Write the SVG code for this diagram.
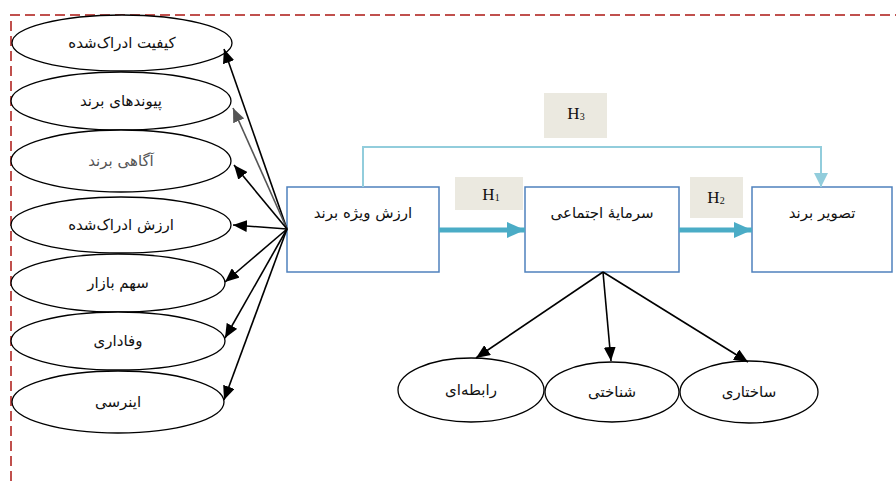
<svg xmlns="http://www.w3.org/2000/svg" width="896" height="481" viewBox="0 0 896 481">
<style>
.ell{fill:#fff;stroke:#000;stroke-width:1.3}
.box{fill:#fff;stroke:#4f81bd;stroke-width:1.5}
.lbl{font-family:"DejaVu Sans",sans-serif;font-size:15px;fill:#111;text-anchor:middle;dominant-baseline:central}
.hbox{fill:#ebe9e0}
.h{font-family:"Liberation Serif",serif;font-size:17px;fill:#111;text-anchor:middle;dominant-baseline:central}
.blk{stroke:#000;stroke-width:1.6;fill:none;marker-end:url(#ab)}
.thick{stroke:#4bacc6;stroke-width:5;fill:none;marker-end:url(#at)}
</style>
<defs>
<marker id="ab" markerUnits="userSpaceOnUse" markerWidth="14" markerHeight="12" viewBox="0 0 14 12" refX="14" refY="6" orient="auto"><path d="M0,0 L14,6 L0,12 z" fill="#000"/></marker>
<marker id="ag" markerUnits="userSpaceOnUse" markerWidth="14" markerHeight="12" viewBox="0 0 14 12" refX="14" refY="6" orient="auto"><path d="M0,0 L14,6 L0,12 z" fill="#555"/></marker>
<marker id="at" markerUnits="userSpaceOnUse" markerWidth="18" markerHeight="16" viewBox="0 0 18 16" refX="18" refY="8" orient="auto"><path d="M0,0 L18,8 L0,16 z" fill="#4bacc6"/></marker>
<marker id="al" markerUnits="userSpaceOnUse" markerWidth="14" markerHeight="14" viewBox="0 0 14 14" refX="14" refY="7" orient="auto"><path d="M0,0 L14,7 L0,14 z" fill="#92cddc"/></marker>
</defs>
<g id="border" fill="none" stroke="#c0504d" stroke-width="2" stroke-dasharray="10 5">
<path d="M11,481 L11,15 L896,15"/>
</g>
<g id="left-ellipses">
<g id="e1"><ellipse class="ell" cx="122" cy="43" rx="110" ry="28"/><text class="lbl" x="122" y="43">کیفیت ادراک‌شده</text></g>
<g id="e2"><ellipse class="ell" cx="121" cy="101" rx="110" ry="29"/><text class="lbl" x="121" y="101">پیوندهای برند</text></g>
<g id="e3"><ellipse class="ell" cx="121" cy="161" rx="110" ry="31"/><text class="lbl" x="121" y="161" style="fill:#555">آگاهی برند</text></g>
<g id="e4"><ellipse class="ell" cx="121" cy="225" rx="110" ry="28"/><text class="lbl" x="121" y="225">ارزش ادراک‌شده</text></g>
<g id="e5"><ellipse class="ell" cx="118" cy="283" rx="107" ry="29"/><text class="lbl" x="118" y="283">سهم بازار</text></g>
<g id="e6"><ellipse class="ell" cx="118" cy="341" rx="107" ry="29"/><text class="lbl" x="118" y="341">وفاداری</text></g>
<g id="e7"><ellipse class="ell" cx="118" cy="402" rx="106" ry="31"/><text class="lbl" x="118" y="402">اینرسی</text></g>
</g>
<g id="bottom-ellipses">
<g id="b1"><ellipse class="ell" cx="471" cy="390" rx="73" ry="32"/><text class="lbl" x="471" y="390">رابطه‌ای</text></g>
<g id="b2"><ellipse class="ell" cx="612" cy="392" rx="67" ry="30"/><text class="lbl" x="612" y="392">شناختی</text></g>
<g id="b3"><ellipse class="ell" cx="749" cy="392" rx="69" ry="31"/><text class="lbl" x="749" y="392">ساختاری</text></g>
</g>
<g id="n-brand-equity"><rect class="box" x="287" y="187" width="152" height="85"/><text class="lbl" x="363" y="213">ارزش ویژه برند</text></g>
<g id="n-social-capital"><rect class="box" x="525" y="187" width="154" height="85"/><text class="lbl" x="602" y="213">سرمایهٔ اجتماعی</text></g>
<g id="n-brand-image"><rect class="box" x="752" y="187" width="140" height="85"/><text class="lbl" x="822" y="213">تصویر برند</text></g>
<g id="h-labels">
<g id="h1"><rect class="hbox" x="455" y="177" width="68" height="33"/><text class="h" x="491" y="194">H<tspan font-size="10" dy="3">1</tspan></text></g>
<g id="h2"><rect class="hbox" x="690" y="177" width="53" height="41"/><text class="h" x="716" y="197">H<tspan font-size="10" dy="3">2</tspan></text></g>
<g id="h3"><rect class="hbox" x="544" y="93" width="63" height="45"/><text class="h" x="576" y="113">H<tspan font-size="10" dy="3">3</tspan></text></g>
</g>
<g id="connectors">
<line class="blk" x1="287" y1="229" x2="224" y2="49"/>
<line x1="287" y1="229" x2="233" y2="108" stroke="#555" stroke-width="1.6" marker-end="url(#ag)"/>
<line class="blk" x1="287" y1="229" x2="234" y2="165"/>
<line class="blk" x1="287" y1="229" x2="233" y2="225"/>
<line class="blk" x1="287" y1="229" x2="225" y2="282"/>
<line class="blk" x1="287" y1="229" x2="225" y2="338"/>
<line class="blk" x1="287" y1="229" x2="224" y2="400"/>
<line class="blk" x1="603" y1="272" x2="476" y2="358"/>
<line class="blk" x1="603" y1="272" x2="611" y2="361"/>
<line class="blk" x1="603" y1="272" x2="748" y2="362"/>
<line class="thick" x1="439" y1="230" x2="525" y2="230"/>
<line class="thick" x1="679" y1="230" x2="752" y2="230"/>
<path d="M363,187 L363,147 L821,147 L821,187" fill="none" stroke="#92cddc" stroke-width="2" marker-end="url(#al)"/>
</g>
</svg>
